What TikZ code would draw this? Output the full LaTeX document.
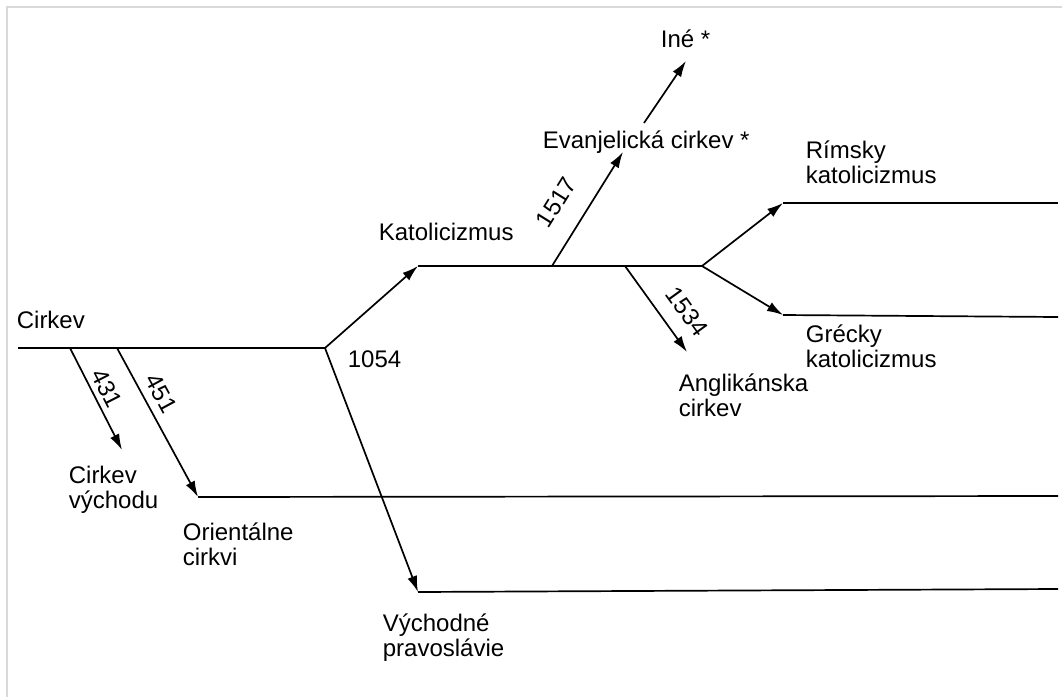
\documentclass[tikz,border=0pt]{standalone}
\usepackage{fontspec}
\setmainfont{Liberation Sans}
\usetikzlibrary{positioning,arrows.meta}

\begin{document}
\begin{tikzpicture}[x=0.5pt,y=-0.5pt,line width=0.85pt,>={Latex[length=8pt,width=5pt]},
	txt/.style={anchor=west,align=left,inner sep=0pt,font=\fontsize{12}{12.5}\selectfont},
	year/.style={sloped,inner sep=1.5pt,font=\fontsize{12}{12.5}\selectfont}]

		\useasboundingbox (0,0) rectangle (1062,697);
		\draw[gray!30,line width=1pt] (7,697) -- (7,7) -- (1062,7);

		%the trunk and its early splits
		\coordinate (root) at (18,348);
		\coordinate (b431) at (70,348);
		\coordinate (b451) at (117,348);
		\coordinate (split) at (325,348);
		\coordinate (t431) at (122,450);
		\coordinate (t451) at (198,497);
		\coordinate (e451) at (1058,496);
		\node[txt] (cirkev) at (16,320) {Cirkev};
		\node[txt] (vych) at (68,490) {Cirkev\\východu};
		\node[txt] (orient) at (182,544) {Orientálne\\cirkvi};
		\draw (root) -- (split);
		\draw[->] (b431) -- node[year,above=1.2pt,pos=.46] (y431) {431} (t431);
		\draw[->] (b451) -- node[year,above=2.4pt,pos=.36] (y451) {451} (t451);
		\draw (t451) -- (e451);

		%the great schism
		\coordinate (tkat) at (418,266);
		\coordinate (tpr) at (418,592);
		\coordinate (epr) at (1058,589);
		\node[txt] (y1054) at (347,359) {1054};
		\node[txt] (kat) at (378,232) {Katolicizmus};
		\node[txt] (prav) at (382,638) {Východné\\pravoslávie};
		\draw[->] (split) -- (tkat);
		\draw[->] (split) -- (tpr);
		\draw (tpr) -- (epr);

		% reformation and the later branches
		\coordinate (b1517) at (552,266);
		\coordinate (b1534) at (625,266);
		\coordinate (fork) at (702,266);
		\coordinate (tev) at (623,152);
		\coordinate (sine) at (644,123);
		\coordinate (tine) at (686,61);
		\coordinate (tang) at (687,352);
		\coordinate (trim) at (783,203);
		\coordinate (erim) at (1058,203);
		\coordinate (tgr) at (783,315);
		\coordinate (egr) at (1058,317);
		\node[txt] (evan) at (542,142) {Evanjelická cirkev *};
		\node[txt] (ine) at (660,39) {Iné *};
		\node[txt] (angl) at (678,395) {Anglikánska\\cirkev};
		\node[txt] (rim) at (805,162) {Rímsky\\katolicizmus};
		\node[txt] (grec) at (805,346) {Grécky\\katolicizmus};
		\draw (tkat) -- (fork);
		\draw[->] (b1517) -- node[year,above=9pt,pos=.42] (y1517) {1517} (tev);
		\draw[->] (sine) -- (tine);
		\draw[->] (b1534) -- node[year,above=5.7pt,pos=.69] (y1534) {1534} (tang);
		\draw[->] (fork) -- (trim);
		\draw (trim) -- (erim);
		\draw[->] (fork) -- (tgr);
		\draw (tgr) -- (egr);

	\end{tikzpicture}
\end{document}
